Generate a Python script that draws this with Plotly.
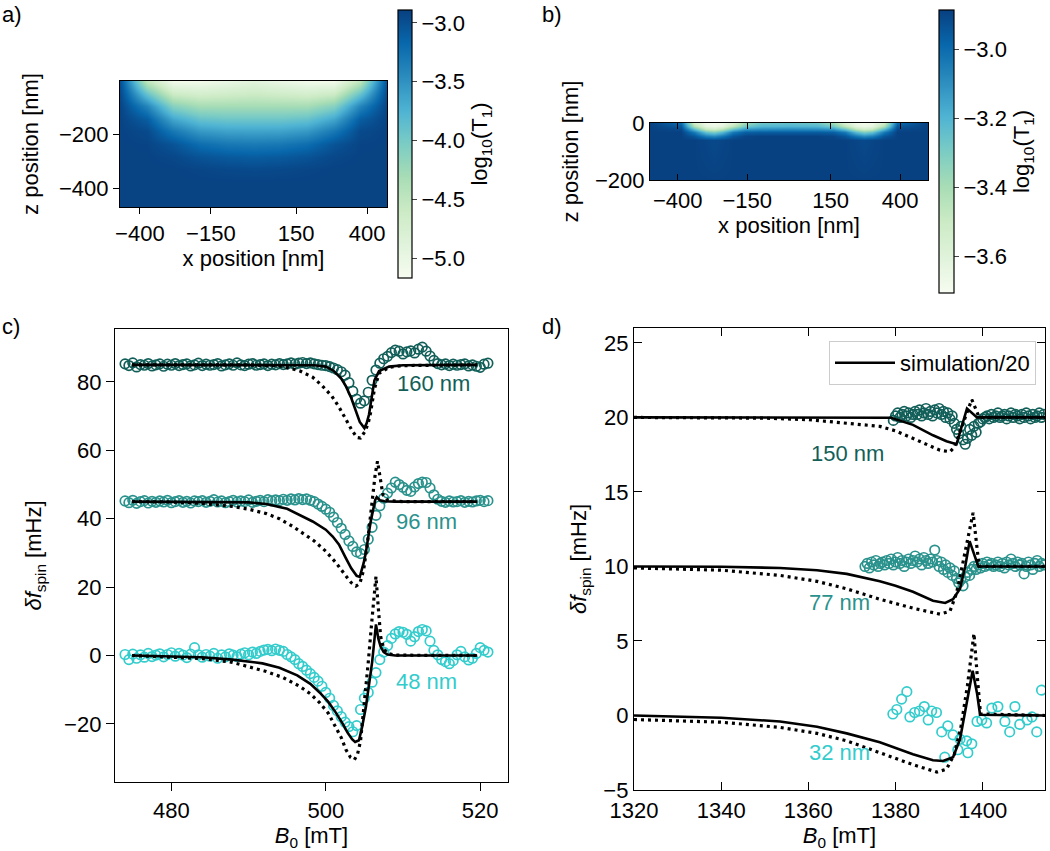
import plotly.graph_objects as go

W, H = 1050, 851
FONT = "Liberation Sans, Arial, sans-serif"
FS = 22

# ---------------- panel a : log10(T1) map ----------------
xa = [-470, -376, -282, -188, -94, 0, 94, 188, 282, 376, 470]
za = [0, -47, -94, -141, -188, -235, -282, -329, -376, -423, -470]
Za = [
    [-3.00, -4.50, -5.10, -5.10, -5.00, -4.90, -5.00, -5.10, -5.10, -4.50, -3.00],
    [-2.95, -3.90, -4.60, -4.70, -4.65, -4.60, -4.65, -4.70, -4.60, -3.90, -2.95],
    [-2.92, -3.40, -4.10, -4.30, -4.30, -4.30, -4.30, -4.30, -4.10, -3.40, -2.92],
    [-2.91, -3.10, -3.65, -3.90, -3.95, -3.95, -3.95, -3.90, -3.65, -3.10, -2.91],
    [-2.91, -2.96, -3.30, -3.55, -3.62, -3.63, -3.62, -3.55, -3.30, -2.96, -2.91],
    [-2.91, -2.92, -3.03, -3.22, -3.30, -3.32, -3.30, -3.22, -3.03, -2.92, -2.91],
    [-2.91, -2.91, -2.94, -3.02, -3.07, -3.09, -3.07, -3.02, -2.94, -2.91, -2.91],
    [-2.91, -2.91, -2.91, -2.93, -2.95, -2.96, -2.95, -2.93, -2.91, -2.91, -2.91],
    [-2.91, -2.91, -2.91, -2.91, -2.91, -2.91, -2.91, -2.91, -2.91, -2.91, -2.91],
    [-2.91, -2.91, -2.91, -2.91, -2.91, -2.91, -2.91, -2.91, -2.91, -2.91, -2.91],
    [-2.91, -2.91, -2.91, -2.91, -2.91, -2.91, -2.91, -2.91, -2.91, -2.91, -2.91],
]
cb_a_ticks = [-3.0, -3.5, -4.0, -4.5, -5.0]

# ---------------- panel b : log10(T1) map ----------------
xb = [-500, -390, -340, -300, -270, -240, -200, -160, -100, 0, 100, 160, 200, 240, 270, 300, 340, 390, 500]
zb = [0, -10, -20, -32, -45, -60, -200]
Zb = [
    [-2.89, -3.00, -3.52, -3.67, -3.69, -3.67, -3.56, -3.38, -3.27, -3.25, -3.27, -3.38, -3.56, -3.67, -3.69, -3.67, -3.52, -3.00, -2.89],
    [-2.89, -2.95, -3.42, -3.63, -3.66, -3.62, -3.46, -3.28, -3.21, -3.20, -3.21, -3.28, -3.46, -3.62, -3.66, -3.63, -3.42, -2.95, -2.89],
    [-2.89, -2.91, -3.22, -3.48, -3.53, -3.45, -3.25, -3.12, -3.09, -3.08, -3.09, -3.12, -3.25, -3.45, -3.53, -3.48, -3.22, -2.91, -2.89],
    [-2.89, -2.89, -3.04, -3.25, -3.30, -3.22, -3.04, -2.97, -2.96, -2.96, -2.96, -2.97, -3.04, -3.22, -3.30, -3.25, -3.04, -2.89, -2.89],
    [-2.89, -2.89, -2.94, -3.05, -3.08, -3.03, -2.94, -2.90, -2.89, -2.89, -2.89, -2.90, -2.94, -3.03, -3.08, -3.05, -2.94, -2.89, -2.89],
    [-2.89, -2.89, -2.89, -2.90, -2.91, -2.90, -2.89, -2.89, -2.89, -2.89, -2.89, -2.89, -2.89, -2.90, -2.91, -2.90, -2.89, -2.89, -2.89],
    [-2.89, -2.89, -2.89, -2.89, -2.89, -2.89, -2.89, -2.89, -2.89, -2.89, -2.89, -2.89, -2.89, -2.89, -2.89, -2.89, -2.89, -2.89, -2.89],
]
cb_b_ticks = [-3.0, -3.2, -3.4, -3.6]

# ---------------- panel c : measured data (B sweep 474.0 ... 521.0, step 0.5) ----------------
c_B_start, c_B_step = 474.0, 0.5
c160 = [85.3, 84.8, 85.6, 84.4, 85.1, 84.9, 85.4, 84.7, 85.0, 85.3,
        84.6, 85.2, 84.9, 85.4, 84.8, 85.1, 85.3, 84.7, 85.0, 85.5,
        84.8, 85.2, 84.9, 85.1, 85.4, 84.7, 85.0, 85.3, 84.9, 85.6,
        85.0, 84.8, 85.2, 85.4, 84.9, 85.1, 85.3, 84.8, 85.2, 85.0,
        85.4, 85.1, 85.3, 85.6, 85.2, 85.5, 85.7, 85.4, 85.6, 85.3,
        85.1, 84.9, 84.8, 84.5, 84.1, 83.6, 83.0, 82.0, 79.8, 77.3,
        75.0, 73.8, 74.5, 77.0, 80.5, 83.5, 85.5, 86.8, 87.5, 88.6,
        89.3, 89.0, 88.2, 88.8, 89.1, 88.5, 89.6, 90.2, 89.0, 87.6,
        86.3, 85.4, 85.0, 85.3, 84.8, 85.2, 84.9, 85.1, 85.3, 84.7,
        85.0, 84.6, 84.3, 85.2, 85.5]
c96 = [45.2, 44.7, 45.4, 44.5, 45.0, 45.3, 44.6, 45.1, 44.8, 45.2,
       44.9, 45.4, 44.7, 45.0, 45.3, 44.8, 45.1, 44.6, 45.2, 45.0,
       45.3, 44.8, 45.1, 45.6, 44.9, 45.2, 44.7, 45.0, 45.4, 44.9,
       45.2, 45.0, 45.5, 44.8, 45.1, 45.4, 45.0, 45.6, 45.2, 45.5,
       45.3, 45.7, 45.4, 45.8, 45.5, 45.9, 45.6, 45.8, 45.4, 45.0,
       44.3, 43.6, 42.8, 41.9, 40.5, 38.9, 37.2, 35.4, 33.5, 31.9,
       30.3, 29.8, 31.0, 34.0, 37.5, 41.0, 43.8, 46.0, 47.5, 49.0,
       50.7, 50.0, 49.2, 48.3, 48.0, 49.3, 50.3, 50.7, 50.6, 49.0,
       47.0, 45.7, 45.1, 44.8, 45.2, 44.9, 45.0, 45.3, 44.8, 45.1,
       44.9, 45.2, 45.4, 45.0, 45.3]
c48 = [0.3, -1.2, 0.4, -0.8, 0.2, -0.5, 0.6, -0.3, 0.1, 0.5,
       -0.4, 0.3, 0.8, -0.2, 0.6, 0.1, -0.6, 0.4, 2.3, 0.2,
       -0.5, 0.3, -0.2, 0.6, -0.8, 0.2, -0.4, 0.5, 0.1, -0.3,
       0.4, 0.8, 0.2, 1.0, 0.6, 1.2, 1.6, 1.8, 1.4, 1.9,
       1.5, 1.2, 0.3, -0.4, -1.2, -2.4, -3.2, -4.3, -5.3, -6.4,
       -7.5, -9.0, -10.8, -12.5, -14.6, -16.2, -17.9, -19.5, -20.8, -22.3,
       -20.5, -15.8, -12.5, -10.8, -7.8, -5.0, -1.2, 1.0, 2.9, 5.0,
       6.3, 7.0, 6.8, 6.2, 4.2, 5.5, 7.0, 7.6, 7.2, 4.2,
       1.5, 0.2, -1.2, -1.8, -2.4, -1.5, 0.2, 1.2, -0.4, -1.3,
       -0.8, 0.6, 2.3, 1.5, 1.0]

# panel c simulations
s160_B = [474.9, 490, 496, 498.5, 500, 501, 502, 502.6, 503.3, 503.9, 504.4, 505.0, 505.3, 505.6, 506.0, 506.3, 506.9, 508.2, 510, 519.6]
s160_v = [85, 85, 85, 84.9, 84.5, 83.3, 81.0, 78.8, 75.3, 71.2, 68.3, 66.5, 68.0, 70.5, 76.0, 80.5, 83.2, 84.5, 84.9, 85.0]
d160_B = [474.9, 490, 494, 496.6, 498.3, 499.5, 500.8, 501.7, 502.6, 503.3, 504.0, 504.5, 505.1, 505.5, 505.8, 506.3, 506.9, 508.2, 510, 519.6]
d160_v = [85, 85, 84.7, 83.3, 81.4, 79.0, 75.8, 72.7, 69.1, 66.2, 63.8, 63.6, 65.6, 68.0, 71.0, 78.0, 82.5, 84.3, 84.8, 85.0]
s96_B = [474.9, 485, 490, 492.3, 495, 498.3, 500.0, 500.9, 501.7, 502.6, 503.3, 504.0, 504.4, 504.9, 505.2, 505.8, 506.4, 506.6, 507.0, 507.6, 509, 519.6]
s96_v = [45, 45, 44.8, 44.3, 42.9, 39.2, 36.8, 34.8, 32.5, 28.5, 25.5, 23.3, 23.0, 27.0, 30.2, 39.0, 45.5, 46.3, 45.4, 45.1, 45.0, 45.0]
d96_B = [474.9, 480, 484, 487.9, 490, 492.3, 494, 495.7, 497, 498.5, 500, 501.3, 502.6, 503.3, 503.9, 504.4, 504.9, 505.4, 505.9, 506.4, 506.7, 507.0, 507.4, 508, 510, 519.6]
d96_v = [45, 44.9, 44.5, 43.6, 42.8, 41.5, 40.0, 37.8, 35.8, 33.5, 30.5, 27.2, 23.3, 21.3, 20.3, 21.0, 25.0, 33.0, 43.0, 53.0, 56.8, 52.0, 47.0, 45.4, 45.0, 45.0]
s48_B = [474.9, 480, 484, 487.9, 491.8, 494, 496.3, 498, 499.2, 500.3, 501.3, 502.2, 502.8, 503.4, 503.8, 504.3, 504.7, 505.2, 505.6, 506.0, 506.5, 506.8, 507.1, 507.5, 508.0, 509, 519.6]
s48_v = [0, -0.2, -0.5, -1.2, -2.3, -3.6, -5.8, -8.3, -10.8, -13.5, -16.7, -20.0, -22.5, -24.5, -25.3, -24.8, -21.0, -15.0, -9.0, -2.0, 9.1, 5.0, 2.6, 1.0, 0.3, 0.0, 0.0]
d48_B = [474.9, 480, 484, 487.9, 492.3, 494.5, 496.6, 498, 499.2, 500.3, 501.3, 502.0, 502.6, 503.2, 503.7, 504.1, 504.5, 505.0, 505.5, 506.0, 506.5, 506.8, 507.1, 507.5, 508, 509, 519.6]
d48_v = [0, -0.4, -0.9, -2.0, -4.7, -6.5, -9.0, -11.2, -13.8, -16.8, -20.8, -24.0, -27.5, -29.8, -30.5, -29.0, -25.0, -14.0, -2.0, 11.0, 23.1, 14.0, 5.6, 2.0, 0.6, 0.1, 0.0]

# ---------------- panel d : measured data ----------------
d150_B_start, d150_B_step = 1379.5, 0.5
d150 = [19.8, 20.1, 20.3, 20.0, 20.2, 20.4, 20.1, 20.3, 20.0, 20.2,
        20.4, 20.2, 20.5, 20.1, 20.3, 20.6, 20.2, 20.4, 20.1, 20.5,
        20.3, 20.6, 20.2, 20.4, 20.0, 20.3, 19.9, 20.1, 19.6, 19.2,
        18.9, 19.4, 18.5, 18.2, 18.6, 19.2, 18.8, 19.4, 19.0, 19.6,
        19.7, 19.9, 20.0, 20.1, 19.9, 20.2, 20.0, 20.1, 20.3, 20.0,
        20.1, 20.2, 19.9, 20.1, 20.3, 20.0, 20.2, 20.1, 19.9, 20.2,
        20.0, 20.3, 20.1, 19.9, 20.2, 20.0, 20.1, 20.3, 20.0, 20.2]
d77_B_start, d77_B_step = 1373.0, 0.5
d77 = [10.0, 10.2, 9.9, 10.3, 10.1, 10.4, 10.0, 10.2, 10.3, 10.1,
       10.4, 10.2, 10.5, 10.1, 10.3, 10.6, 10.2, 10.4, 10.0, 10.3,
       10.5, 10.2, 10.4, 10.7, 10.3, 10.5, 10.1, 10.6, 10.4, 10.2,
       10.5, 10.3, 11.1, 10.4, 10.0, 10.3, 9.8, 10.1, 9.6, 9.9,
       9.4, 9.7, 9.2, 8.9, 9.1, 8.7, 9.3, 9.6, 9.4, 9.8,
       10.0, 9.8, 10.1, 9.9, 10.2, 10.0, 10.3, 10.1, 10.2, 10.0,
       10.1, 10.3, 10.0, 10.2, 9.9, 10.3, 10.1, 10.5, 10.2, 10.0,
       10.3, 10.1, 10.2, 9.5, 10.0, 10.3, 10.1, 9.8, 10.2, 10.4,
       10.0, 10.2, 10.1]
d32_B = [1379.4, 1380.3, 1381.4, 1382.6, 1383.3, 1384.4, 1385.5, 1386.6, 1387.5, 1388.3,
         1389.4, 1390.6, 1391.3, 1392.0, 1393.2, 1394.3, 1394.8, 1396.3, 1396.6, 1397.5,
         1398.7, 1399.8, 1400.9, 1402.1, 1403.5, 1405.1, 1406.2, 1407.4, 1408.5, 1410.2,
         1411.3, 1412.4, 1413.5]
d32 = [0.1, 0.4, 1.1, 1.6, -0.1, 0.2, 0.3, 0.6, -0.3, 0.3,
       0.2, -1.1, -2.8, -0.7, -1.3, -2.3, -1.6, -1.7, -2.5, -1.9,
       -0.4, -0.3, -0.5, 0.5, 0.6, -0.4, -1.1, 0.6, -0.6, -0.3,
       -0.1, -1.1, 1.7]

# panel d simulations (scaled /20)
s150_B = [1320, 1370, 1379, 1384, 1388.6, 1391.7, 1394.0, 1396.4, 1398.7, 1414.3]
s150_v = [20, 20, 19.98, 19.5, 18.8, 18.4, 18.2, 20.6, 20.0, 20.0]
q150_B = [1320, 1350, 1360, 1365.6, 1370, 1376.4, 1380, 1384, 1387, 1390.2, 1392.5, 1393.5, 1395, 1396.5, 1397.5, 1398.5, 1399.2, 1414.3]
q150_v = [20, 19.95, 19.85, 19.7, 19.6, 19.4, 19.1, 18.6, 18.2, 17.8, 17.7, 18.0, 19.2, 20.5, 21.2, 20.5, 20.0, 20.0]
s77_B = [1320, 1340, 1353.5, 1362, 1368.8, 1376.4, 1380, 1384, 1388.6, 1391.4, 1393.2, 1394.8, 1396.0, 1397.0, 1399.0, 1414.3]
s77_v = [10, 9.98, 9.9, 9.75, 9.5, 9.0, 8.7, 8.3, 7.7, 7.55, 7.8, 8.5, 10.0, 11.7, 10.0, 10.0]
q77_B = [1320, 1340, 1353.5, 1362, 1368.8, 1376.4, 1384, 1387, 1390.2, 1392.5, 1394, 1395.5, 1396.8, 1397.8, 1398.6, 1399.2, 1414.3]
q77_v = [9.9, 9.75, 9.4, 9.0, 8.5, 7.8, 7.2, 7.0, 6.8, 7.0, 8.2, 10.3, 12.3, 13.6, 11.5, 10.0, 10.0]
s32_B = [1320, 1340, 1353.5, 1362, 1368.8, 1376.4, 1384, 1388.6, 1390.9, 1393.2, 1394.8, 1396.3, 1397.7, 1398.7, 1399.4, 1414.3]
s32_v = [0, -0.15, -0.4, -0.75, -1.2, -1.8, -2.6, -3.0, -3.05, -2.8, -1.6, 0.9, 3.0, 1.5, 0.05, 0.0]
q32_B = [1320, 1340, 1353.5, 1362, 1368.8, 1376.4, 1384, 1389.5, 1391.7, 1393.5, 1395, 1396.5, 1397.5, 1398.0, 1398.8, 1399.5, 1414.3]
q32_v = [-0.27, -0.45, -0.8, -1.2, -1.7, -2.5, -3.3, -3.8, -3.6, -2.6, -0.8, 2.0, 4.2, 5.5, 2.5, 0.1, 0.0]

labels_c = ["160 nm", "96 nm", "48 nm"]
labels_d = ["150 nm", "77 nm", "32 nm"]
COL_DARK, COL_MID, COL_LIGHT = "#125f59", "#2a928c", "#33cccc"
GNBU = ['#f7fcf0', '#e0f3db', '#ccebc5', '#a8ddb5', '#7bccc4', '#4eb3d3', '#2b8cbe', '#0868ac', '#084081']
colorscale = [[i / 8, c] for i, c in enumerate(GNBU)]


def sweep(start, step, vals):
    return [round(start + step * i, 3) for i in range(len(vals))]


def px(x):
    return x / W


def py(y):
    return 1 - y / H


fig = go.Figure()

# heatmaps
fig.add_trace(go.Heatmap(
    x=xa, y=za[::-1], z=Za[::-1], colorscale=colorscale, zmin=-5.17, zmax=-2.89,
    zsmooth="best", xaxis="x", yaxis="y", showscale=True,
    colorbar=dict(x=px(398), xanchor="left", xpad=0, ypad=0,
                  y=py(144), yanchor="middle", len=268 / H, lenmode="fraction",
                  thickness=14, thicknessmode="pixels",
                  outlinewidth=1.2, outlinecolor="black",
                  tickvals=cb_a_ticks, tickformat=".1f", ticks="outside", ticklen=5,
                  tickfont=dict(size=FS, family=FONT, color="black"),
                  title=dict(text="log<sub>10</sub>(T<sub>1</sub>)", side="right",
                             font=dict(size=FS, family=FONT, color="black")))))
fig.add_trace(go.Heatmap(
    x=xb, y=zb[::-1], z=Zb[::-1], colorscale=colorscale, zmin=-3.707, zmax=-2.887,
    zsmooth="best", xaxis="x2", yaxis="y2", showscale=True,
    colorbar=dict(x=px(939), xanchor="left", xpad=0, ypad=0,
                  y=py(151.5), yanchor="middle", len=283 / H, lenmode="fraction",
                  thickness=15, thicknessmode="pixels",
                  outlinewidth=1.2, outlinecolor="black",
                  tickvals=cb_b_ticks, tickformat=".1f", ticks="outside", ticklen=5,
                  tickfont=dict(size=FS, family=FONT, color="black"),
                  title=dict(text="log<sub>10</sub>(T<sub>1</sub>)", side="right",
                             font=dict(size=FS, family=FONT, color="black")))))

MK = dict(symbol="circle-open", size=9.5)


def add_markers(x, y, color, xa_, ya_):
    fig.add_trace(go.Scatter(x=x, y=y, mode="markers", xaxis=xa_, yaxis=ya_, showlegend=False,
                             marker=dict(**MK, color=color, line=dict(color=color, width=1.7))))


def add_line(x, y, xa_, ya_, dotted=False, legend=False):
    fig.add_trace(go.Scatter(x=x, y=y, mode="lines", xaxis=xa_, yaxis=ya_,
                             name="simulation/20", showlegend=legend,
                             line=dict(color="black", width=3.2 if dotted else 2.6,
                                       dash="3px,4px" if dotted else "solid")))


# panel c
add_markers(sweep(c_B_start, c_B_step, c160), c160, COL_DARK, "x3", "y3")
add_markers(sweep(c_B_start, c_B_step, c96), c96, COL_MID, "x3", "y3")
add_markers(sweep(c_B_start, c_B_step, c48), c48, COL_LIGHT, "x3", "y3")
for (xs, ys, dt) in [(s160_B, s160_v, False), (d160_B, d160_v, True),
                     (s96_B, s96_v, False), (d96_B, d96_v, True),
                     (s48_B, s48_v, False), (d48_B, d48_v, True)]:
    add_line(xs, ys, "x3", "y3", dotted=dt)

# panel d
add_markers(sweep(d150_B_start, d150_B_step, d150), d150, COL_DARK, "x4", "y4")
add_markers(sweep(d77_B_start, d77_B_step, d77), d77, COL_MID, "x4", "y4")
add_markers(d32_B, d32, COL_LIGHT, "x4", "y4")
first = True
for (xs, ys, dt) in [(s150_B, s150_v, False), (q150_B, q150_v, True),
                     (s77_B, s77_v, False), (q77_B, q77_v, True),
                     (s32_B, s32_v, False), (q32_B, q32_v, True)]:
    add_line(xs, ys, "x4", "y4", dotted=dt, legend=(first and not dt))
    if not dt:
        first = False

tickfont = dict(size=FS, family=FONT, color="black")
titlefont = dict(size=FS, family=FONT, color="black")
base = dict(showgrid=False, zeroline=False, showline=True, linecolor="black", linewidth=1.3,
            tickcolor="black", tickwidth=1.3, tickfont=tickfont, automargin=False)

layout = dict(
    width=W, height=H, margin=dict(l=0, r=0, t=0, b=0, autoexpand=False),
    paper_bgcolor="white", plot_bgcolor="white",
    font=dict(family=FONT, size=FS, color="black"),
    xaxis=dict(base, domain=[px(120), px(387)], anchor="y", range=[-470, 470],
               tickvals=[-400, -150, 150, 400], ticks="outside", ticklen=6, mirror=True,
               title=dict(text="x position [nm]", font=titlefont, standoff=6)),
    yaxis=dict(base, domain=[py(207), py(81)], anchor="x", range=[-470, 0],
               tickvals=[-200, -400], ticks="outside", ticklen=6, mirror=True,
               title=dict(text="z position [nm]", font=titlefont, standoff=14)),
    xaxis2=dict(base, domain=[px(650), px(928)], anchor="y2", range=[-500, 500],
                tickvals=[-400, -150, 150, 400], ticks="inside", ticklen=6, mirror="ticks",
                title=dict(text="x position [nm]", font=titlefont, standoff=6)),
    yaxis2=dict(base, domain=[py(180), py(123)], anchor="x2", range=[-200, 0],
                tickvals=[0, -200], ticks="inside", ticklen=6, mirror="ticks",
                title=dict(text="z position [nm]", font=titlefont, standoff=10)),
    xaxis3=dict(base, domain=[px(115), px(508)], anchor="y3", range=[472.7, 523.6],
                tickvals=[480, 500, 520], ticks="outside", ticklen=8, mirror=True,
                title=dict(text="<i>B</i><sub>0</sub> [mT]", font=titlefont, standoff=8)),
    yaxis3=dict(base, domain=[py(782), py(329)], anchor="x3", range=[-37, 95.5],
                tickvals=[-20, 0, 20, 40, 60, 80], ticks="outside", ticklen=8, mirror=True,
                title=dict(text="<i>δf</i><sub>spin</sub> [mHz]", font=titlefont, standoff=16)),
    xaxis4=dict(base, domain=[px(634), px(1045)], anchor="y4", range=[1320, 1414.3],
                tickvals=[1320, 1340, 1360, 1380, 1400], ticks="inside", ticklen=8, mirror="ticks",
                title=dict(text="<i>B</i><sub>0</sub> [mT]", font=titlefont, standoff=8)),
    yaxis4=dict(base, domain=[py(790), py(328)], anchor="x4", range=[-5, 26],
                tickvals=[-5, 0, 5, 10, 15, 20, 25], ticks="inside", ticklen=8, mirror="ticks",
                title=dict(text="<i>δf</i><sub>spin</sub> [mHz]", font=titlefont, standoff=10)),
    legend=dict(x=px(1036), xanchor="right", y=py(341), yanchor="top", itemwidth=60,
                bgcolor="rgba(255,255,255,0.85)", bordercolor="#cccccc", borderwidth=1,
                font=dict(size=FS, family=FONT, color="black")),
)
fig.update_layout(**layout)

# panel letters
for txt, x, y in [("a)", 0, 0), ("b)", 540, 0), ("c)", 0, 312), ("d)", 540, 312)]:
    fig.add_annotation(text=txt, x=px(x), y=py(y), xref="paper", yref="paper",
                       xanchor="left", yanchor="top", showarrow=False,
                       font=dict(size=FS, family=FONT, color="black"))

# distance labels
for txt, x, y, col in [(labels_c[0], 514.0, 79.6, COL_DARK), (labels_c[1], 513.1, 39.2, COL_MID),
                       (labels_c[2], 513.1, -7.6, COL_LIGHT)]:
    fig.add_annotation(text=txt, x=x, y=y, xref="x3", yref="y3", showarrow=False,
                       font=dict(size=FS, family=FONT, color=col))
for txt, x, y, col in [(labels_d[0], 1368.9, 17.6, COL_DARK), (labels_d[1], 1367.2, 7.6, COL_MID),
                       (labels_d[2], 1367.2, -2.5, COL_LIGHT)]:
    fig.add_annotation(text=txt, x=x, y=y, xref="x4", yref="y4", showarrow=False,
                       font=dict(size=FS, family=FONT, color=col))

fig.write_html("out.html", config={"displayModeBar": False},
               post_script="document.body.style.margin='0px';document.body.style.overflow='hidden';")
